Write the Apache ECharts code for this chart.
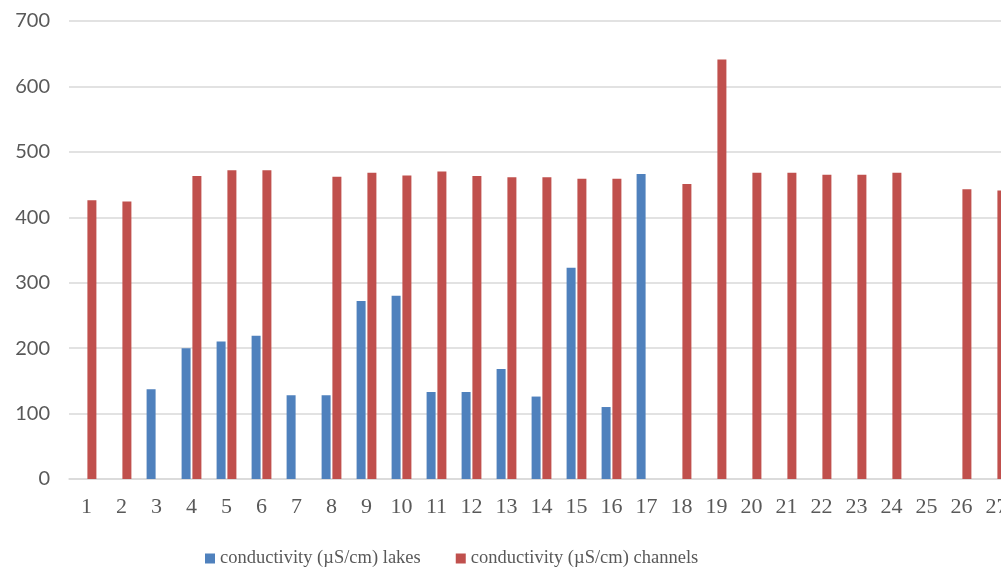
<!DOCTYPE html>
<html>
<head>
<meta charset="utf-8">
<script src="https://cdn.jsdelivr.net/npm/echarts@6/dist/echarts.min.js"></script>
<style>
html,body{margin:0;padding:0;background:#fff;}
#chart{width:1001px;height:571px;}
</style>
</head>
<body>
<div id="chart"></div>
<script>
const categories = ['1','2','3','4','5','6','7','8','9','10','11','12','13','14','15','16','17','18','19','20','21','22','23','24','25','26','27'];
const lakes = [null,null,137,200,210,219,128,128,272,280,133,133,168,126,323,110,466,null,null,null,null,null,null,null,null,null,null];
const channels = [426,424,null,463,472,472,null,462,468,464,470,463,461,461,459,459,null,451,641,468,468,465,465,468,null,443,441];
const seriesNames = ['conductivity (\u00b5S/cm) lakes','conductivity (\u00b5S/cm) channels'];

const chart = echarts.init(document.getElementById('chart'));
chart.setOption({
  animation:false,
  backgroundColor:'#ffffff',
  grid:{left:69, width:945, top:21, bottom:92, containLabel:false, outerBoundsMode:'none'},
  legend:{
    left:200, top:544,
    itemWidth:10, itemHeight:10, itemGap:35,
    icon:'rect',
    textStyle:{fontFamily:'Liberation Serif', fontSize:18.5, color:'#595959'},
    data:seriesNames
  },
  xAxis:{
    type:'category', data:categories,
    axisLine:{lineStyle:{color:'#d9d9d9', width:1.5}},
    axisTick:{show:false},
    axisLabel:{fontFamily:'Liberation Serif', fontSize:22, color:'#595959', margin:17, interval:0}
  },
  yAxis:{
    type:'value', min:0, max:700, interval:100,
    axisLine:{show:false}, axisTick:{show:false},
    splitLine:{lineStyle:{color:'#d9d9d9', width:1.5}},
    axisLabel:{fontFamily:'Lato', fontSize:20, color:'#595959', margin:19}
  },
  series:[
    {name:seriesNames[0], type:'bar', data:lakes, barWidth:9, barGap:'20%', itemStyle:{color:'#4f81bd'}},
    {name:seriesNames[1], type:'bar', data:channels, barWidth:9, barGap:'20%', itemStyle:{color:'#c0504d'}}
  ]
});
</script>
</body>
</html>
